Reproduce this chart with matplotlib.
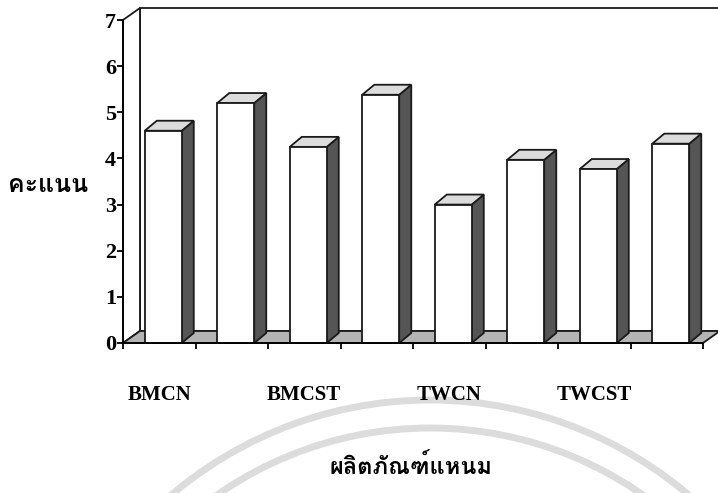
import matplotlib
matplotlib.use("Agg")
import matplotlib.pyplot as plt
from matplotlib import font_manager
from matplotlib.ft2font import FT2Font
from matplotlib.patches import Polygon, Arc

# ---------------- data ----------------
scores = [4.6, 5.2, 4.25, 5.38, 3.0, 3.97, 3.77, 4.32]
group_labels = ["BMCN", "BMCST", "TWCN", "TWCST"]
y_ticks = [0, 1, 2, 3, 4, 5, 6, 7]
y_title = "คะแนน"
x_title = "ผลิตภัณฑ์แหนม"


# ---------------- font with Thai glyphs ----------------
LOOPED = ("Norasi", "Kinnari", "Laksaman", "Garuda", "Loma", "Sarabun",
          "Noto Serif Thai", "Noto Sans Thai Looped", "Waree")


def find_thai_font():
    found = []
    for f in font_manager.fontManager.ttflist:
        try:
            cmap = FT2Font(f.fname).get_charmap()
        except Exception:
            continue
        if 0x0E04 in cmap and 0x0E19 in cmap:
            found.append(f)
    if not found:
        return None

    def rank(f):
        looped = 0 if any(k.lower() in f.name.lower() for k in LOOPED) else 1
        bold = 0 if f.weight in ("bold", 700) else 1
        return (looped, bold)

    found.sort(key=rank)
    return found[0].name


thai_font = find_thai_font()
thai_family = [thai_font, "DejaVu Sans"] if thai_font else ["DejaVu Sans"]
serif = "Liberation Serif"

W, H = 718, 493
fig = plt.figure(figsize=(W / 100, H / 100), dpi=100)

# faint rings in the background
bg = fig.add_axes([0, 0, 1, 1])
bg.set_xlim(0, W)
bg.set_ylim(H, 0)
bg.axis("off")
for r in (400, 372):
    bg.add_patch(Arc((430, 800), 2 * r, 2 * r, theta1=180, theta2=360,
                     color="#dcdcdc", lw=5))

# ---------------- chart box ----------------
ax = fig.add_axes([123 / W, (H - 343) / H, 580 / W, (343 - 20) / H])
ax.set_xlim(0, 8)
ax.set_ylim(0, 7)
ax.patch.set_alpha(0)

# depth of the walls and of each column, in data units
wdx, wdy = 0.234, 0.26
bdx, bdy = 0.166, 0.217
bar_w = 0.51
bar_off = 0.30
lw = 1.3
edge = "#1a1a1a"

n = len(scores)
top = y_ticks[-1]

# back wall and left wall
ax.add_patch(Polygon([(wdx, wdy), (n + wdx, wdy), (n + wdx, top + wdy), (wdx, top + wdy)],
                     closed=True, fc="white", ec=edge, lw=lw, clip_on=False, zorder=1))
ax.add_patch(Polygon([(0, 0), (wdx, wdy), (wdx, top + wdy), (0, top)],
                     closed=True, fc="white", ec=edge, lw=lw, clip_on=False, zorder=1))
# floor
ax.add_patch(Polygon([(0, 0), (n, 0), (n + wdx, wdy), (wdx, wdy)],
                     closed=True, fc="#b4b4b4", ec=edge, lw=lw, clip_on=False, zorder=2))

# columns
for i, v in enumerate(scores):
    x0 = i + bar_off
    x1 = x0 + bar_w
    side = [(x1, 0), (x1 + bdx, bdy), (x1 + bdx, v + bdy), (x1, v)]
    cap = [(x0, v), (x1, v), (x1 + bdx, v + bdy), (x0 + bdx, v + bdy)]
    front = [(x0, 0), (x1, 0), (x1, v), (x0, v)]
    ax.add_patch(Polygon(side, closed=True, fc="#555555", ec=edge, lw=lw,
                         clip_on=False, zorder=3))
    ax.add_patch(Polygon(cap, closed=True, fc="#dcdcdc", ec=edge, lw=lw,
                         clip_on=False, zorder=3))
    ax.add_patch(Polygon(front, closed=True, fc="white", ec=edge, lw=lw,
                         clip_on=False, zorder=4))

# ---------------- axes ----------------
for s in ("top", "right"):
    ax.spines[s].set_visible(False)
ax.spines["left"].set_linewidth(lw)
ax.spines["bottom"].set_linewidth(lw)
ax.spines["left"].set_zorder(5)
ax.spines["bottom"].set_zorder(5)

ax.set_yticks(y_ticks)
ax.set_yticklabels([str(t) for t in y_ticks], fontfamily=serif,
                   fontweight="bold", fontsize=16)
ax.tick_params(axis="y", direction="out", length=4, width=lw, pad=1)

ax.set_xticks(range(n + 1))
ax.set_xticklabels([])
ax.set_xticks([2 * k + 0.5 for k in range(len(group_labels))], minor=True)
ax.set_xticklabels(group_labels, minor=True, fontfamily=serif,
                   fontweight="bold", fontsize=15)
ax.tick_params(axis="x", which="major", direction="out", length=4, width=lw)
ax.tick_params(axis="x", which="minor", length=0, pad=30)

fig.text(48 / W, 1 - 185 / H, y_title, family=thai_family, fontweight="bold",
         fontsize=18, ha="center", va="center")
fig.text(411 / W, 1 - 467 / H, x_title, family=thai_family, fontweight="bold",
         fontsize=17, ha="center", va="center")

fig.savefig("out.png", dpi=100)
